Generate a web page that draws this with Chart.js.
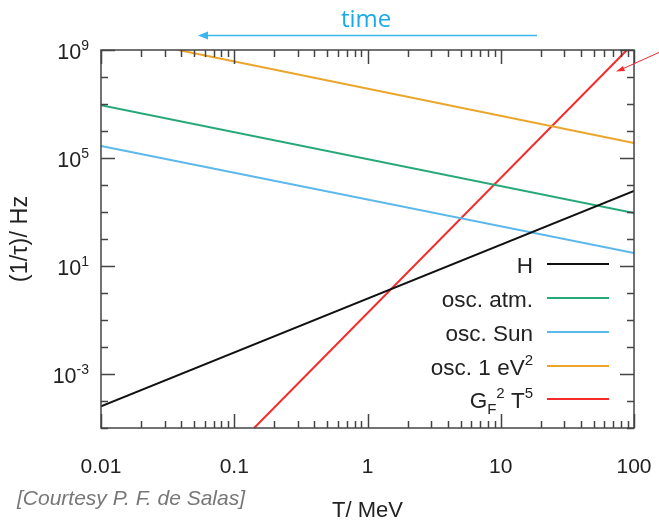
<!DOCTYPE html>
<html><head><meta charset="utf-8">
<script src="https://cdn.jsdelivr.net/npm/chart.js@4/dist/chart.umd.min.js"></script>
<style>html,body{margin:0;padding:0;background:#fff}#wrap{width:659px;height:524px;position:relative}</style>
</head><body><div id="wrap"><canvas id="c" width="659" height="524"></canvas></div>
<script>
// ---- data ----
const xTickValues = [0.01, 0.1, 1, 10, 100];
const xTickLabels = ['0.01', '0.1', '1', '10', '100'];
const yLabelExps = ['9', '5', '1', '-3'];
const yLabelValues = [1e9, 1e5, 1e1, 1e-3];

const seriesNames = ['H', 'osc. atm.', 'osc. Sun', 'osc. 1 eV²', 'G_F² T⁵'];
const seriesLegendMarkup = ['H', 'osc. atm.', 'osc. Sun', 'osc. 1 eV^{2}', 'G_{F}^{2} T^{5}'];
const seriesColors = ['#111111', '#27a878', '#5bb8ec', '#eaa52a', '#f52a2a'];

const H_T = [0.01, 100];
const H_rate = [6.3e-5, 6.0e3];
const atm_T = [0.01, 100];
const atm_rate = [9.1e6, 9.1e2];
const sun_T = [0.01, 100];
const sun_rate = [2.8e5, 3.0e1];
const ev_T = [0.038, 100];
const ev_rate = [1e9, 3.6e5];
const gf_T = [0.141, 88.5];
const gf_rate = [1e-5, 1e9];

const seriesT = [H_T, atm_T, sun_T, ev_T, gf_T];
const seriesRate = [H_rate, atm_rate, sun_rate, ev_rate, gf_rate];

const FONT = '"Liberation Sans", Arial, sans-serif';

function parseMarkup(s) {
  const out = []; let i = 0; let buf = '';
  while (i < s.length) {
    if ((s[i] === '^' || s[i] === '_') && s[i+1] === '{') {
      if (buf) { out.push({t: buf, m: 'n'}); buf = ''; }
      const end = s.indexOf('}', i);
      out.push({t: s.slice(i+2, end), m: s[i] === '^' ? 'sup' : 'sub'});
      i = end + 1;
    } else { buf += s[i]; i++; }
  }
  if (buf) out.push({t: buf, m: 'n'});
  return out;
}
function richWidth(ctx, segs, size) {
  let w = 0;
  for (const s of segs) {
    ctx.font = (s.m === 'n' ? size : Math.round(size * 0.66)) + 'px ' + FONT;
    w += ctx.measureText(s.t).width;
  }
  return w;
}
function drawRich(ctx, segs, xRight, baseline, size) {
  let x = xRight - richWidth(ctx, segs, size);
  ctx.textAlign = 'left'; ctx.textBaseline = 'alphabetic';
  for (const s of segs) {
    let y = baseline;
    if (s.m === 'n') ctx.font = size + 'px ' + FONT;
    else {
      ctx.font = Math.round(size * 0.66) + 'px ' + FONT;
      y = s.m === 'sup' ? baseline - size * 0.44 : baseline + size * 0.28;
    }
    ctx.fillText(s.t, x, y);
    x += ctx.measureText(s.t).width;
  }
}

const decor = {
  id: 'decor',
  afterDraw(chart) {
    const ctx = chart.ctx; const a = chart.chartArea;
    const xs = chart.scales.x, ys = chart.scales.y;
    ctx.save();
    // frame
    ctx.strokeStyle = '#444'; ctx.lineWidth = 1.5;
    ctx.strokeRect(a.left, a.top, a.right - a.left, a.bottom - a.top);
    // x ticks inward (bottom and top)
    ctx.beginPath();
    for (let d = -2; d <= 2; d++) {
      for (let m = 1; m <= 9; m++) {
        const v = m * Math.pow(10, d);
        if (v < 0.01 - 1e-12 || v > 100 + 1e-9) continue;
        const px = Math.round(xs.getPixelForValue(v)) + 0.5;
        const len = m === 1 ? 14 : 7;
        ctx.moveTo(px, a.bottom); ctx.lineTo(px, a.bottom - len);
        ctx.moveTo(px, a.top); ctx.lineTo(px, a.top + len);
      }
    }
    // y ticks inward (left and right)
    for (let e = -5; e <= 9; e++) {
      const v = Math.pow(10, e);
      const py = Math.round(ys.getPixelForValue(v)) + 0.5;
      const major = yLabelValues.some(q => Math.abs(Math.log10(q) - e) < 1e-9);
      const len = major ? 14 : 7;
      ctx.moveTo(a.left, py); ctx.lineTo(a.left + len, py);
      ctx.moveTo(a.right, py); ctx.lineTo(a.right - len, py);
    }
    ctx.stroke();
    // y tick labels with superscripts
    ctx.fillStyle = '#222';
    yLabelValues.forEach((v, i) => {
      const py = ys.getPixelForValue(v);
      drawRich(ctx, [{t: '10', m: 'n'}, {t: yLabelExps[i], m: 'sup'}], 89, py + 9, 21.5);
    });
    // legend
    const legY = [264, 298, 332, 366, 399];
    seriesLegendMarkup.forEach((lab, i) => {
      ctx.fillStyle = '#222';
      drawRich(ctx, parseMarkup(lab), 533, legY[i] + 8.5, 22.5);
      ctx.strokeStyle = seriesColors[i]; ctx.lineWidth = 2.2;
      ctx.beginPath(); ctx.moveTo(547, legY[i]); ctx.lineTo(609, legY[i]); ctx.stroke();
    });
    // "time" and arrow
    ctx.fillStyle = '#1aaaea';
    ctx.font = '24px "Open Sans", sans-serif';
    ctx.textAlign = 'left'; ctx.textBaseline = 'alphabetic';
    ctx.fillText('time', 341, 27);
    ctx.strokeStyle = '#3cb6ee'; ctx.lineWidth = 1.5;
    ctx.beginPath(); ctx.moveTo(537, 35.5); ctx.lineTo(205, 35.5); ctx.stroke();
    ctx.fillStyle = '#3cb6ee';
    ctx.beginPath(); ctx.moveTo(198, 35.5); ctx.lineTo(208, 31.5); ctx.lineTo(208, 39.5); ctx.closePath(); ctx.fill();
    // red pointer arrow
    ctx.strokeStyle = '#f52a2a'; ctx.lineWidth = 1;
    ctx.beginPath(); ctx.moveTo(660, 52); ctx.lineTo(620, 70); ctx.stroke();
    ctx.fillStyle = '#f52a2a';
    ctx.beginPath(); ctx.moveTo(616, 71.5); ctx.lineTo(623, 66); ctx.lineTo(625, 71); ctx.closePath(); ctx.fill();
    // courtesy
    ctx.fillStyle = '#777';
    ctx.font = 'italic 21px ' + FONT;
    ctx.fillText('[Courtesy P. F. de Salas]', 17, 505);
    ctx.restore();
  }
};

const datasets = seriesNames.map((name, i) => ({
  label: name,
  data: seriesT[i].map((t, j) => ({x: t, y: seriesRate[i][j]})),
  borderColor: seriesColors[i],
  backgroundColor: seriesColors[i],
  borderWidth: 2,
  pointRadius: 0,
  showLine: true,
  fill: false
}));

new Chart(document.getElementById('c'), {
  type: 'scatter',
  data: {datasets},
  options: {
    responsive: false,
    animation: false,
    devicePixelRatio: 1,
    layout: {padding: {left: 0, right: 25, top: 50, bottom: 0}},
    plugins: {legend: {display: false}, tooltip: {enabled: false}},
    scales: {
      x: {
        type: 'logarithmic', min: 0.01, max: 100,
        afterBuildTicks: s => { s.ticks = xTickValues.map(v => ({value: v})); },
        afterFit: s => { s.height = 96; s.paddingRight = 0; s.paddingLeft = 0; },
        grid: {display: false, drawTicks: false},
        border: {display: false},
        ticks: {
          autoSkip: false, maxRotation: 0, padding: 27,
          color: '#222', font: {family: FONT, size: 21},
          callback: (v) => { const k = xTickValues.findIndex(q => Math.abs(q - v) / q < 1e-6); return k >= 0 ? xTickLabels[k] : ''; }
        },
        title: {display: true, text: 'T/ MeV', color: '#222', font: {family: FONT, size: 22, lineHeight: 1.2}, padding: {top: 0, bottom: 0}}
      },
      y: {
        type: 'logarithmic', min: 1e-5, max: 1e9,
        afterFit: s => { s.width = 101; },
        grid: {display: false, drawTicks: false},
        border: {display: false},
        ticks: {display: false},
        title: {display: true, text: '(1/τ)/ Hz', color: '#222', font: {family: FONT, size: 23.5, lineHeight: 1.2}, padding: {top: 6, bottom: 0}}
      }
    }
  },
  plugins: [decor]
});
</script></body></html>
